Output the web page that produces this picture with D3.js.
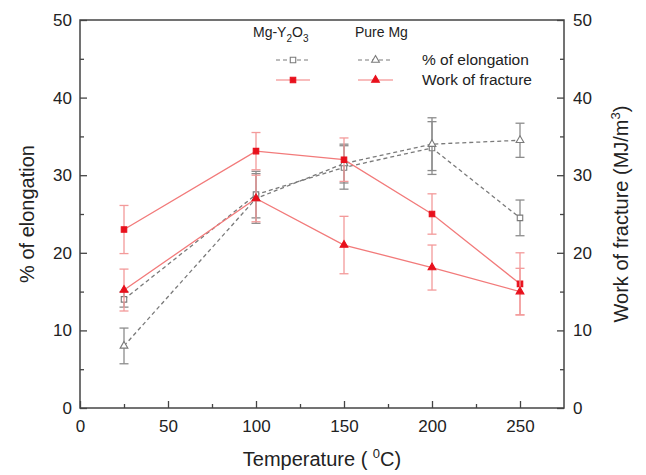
<html>
<head>
    <title>Elongation and work of fracture</title>
    <script src="https://d3js.org/d3.v7.min.js"></script>
    <style>
        body { margin: 0; background: #fff; }
        text { font-family: "Liberation Sans", Arial, sans-serif; fill: #222; }
    </style>
</head>
<body>
    <div id="cont"></div>
    <script>
        // temperatures (C)
        var temps = [25, 100, 150, 200, 250];
        // % of elongation, left axis
        var elongComposite = [14, 27.5, 31, 33.5, 24.5];
        var elongCompositeErr = [1, 3, 2.8, 3.4, 2.3];
        var elongPure = [8, 27, 31.5, 34, 34.5];
        var elongPureErr = [2.3, 3.2, 2.5, 3.4, 2.2];
        // work of fracture (MJ/m3), right axis
        var wofComposite = [23, 33.1, 32, 25, 16];
        var wofCompositeErr = [3.1, 2.4, 2.8, 2.6, 4];
        var wofPure = [15.2, 27, 21, 18.1, 15];
        var wofPureErr = [2.7, 3, 3.7, 2.9, 3];
        var xTicks = [0, 50, 100, 150, 200, 250];
        var yTicks = [0, 10, 20, 30, 40, 50];

        (function() {
            var margin = { top: 20, right: 82, bottom: 67, left: 80 },
                totalW = 646, totalH = 475,
                width = totalW - margin.left - margin.right,
                height = totalH - margin.top - margin.bottom,
                gray = '#7a7a7a', grayErr = '#8c8c8c',
                redLine = '#f27a7a', redMark = '#e8101c', redErr = '#f39a9a';

            var svg = d3.select('#cont').append('svg')
                .attr('width', totalW)
                .attr('height', totalH);
            var g = svg.append('g')
                .attr('transform', 'translate(' + margin.left + ',' + margin.top + ')');

            var x = d3.scaleLinear().domain([0, 275]).range([0, width]);
            var yL = d3.scaleLinear().domain([0, 50]).range([height, 0]);
            var yR = d3.scaleLinear().domain([0, 50]).range([height, 0]);

            // frame
            g.append('rect')
                .attr('width', width).attr('height', height)
                .attr('fill', 'none').attr('stroke', '#444').attr('stroke-width', 1.5);

            // axes, ticks inward
            function styleAxis(sel) {
                sel.select('.domain').remove();
                sel.selectAll('line').attr('stroke', '#444').attr('stroke-width', 1.3);
                sel.selectAll('text').style('font-size', '17px').attr('fill', '#222');
            }
            var xMinor = d3.range(25, 275, 50);
            g.append('g').attr('transform', 'translate(0,' + height + ')')
                .call(d3.axisBottom(x).tickValues(xTicks).tickSize(-7).tickPadding(12))
                .call(styleAxis);
            g.append('g').attr('transform', 'translate(0,' + height + ')')
                .call(d3.axisBottom(x).tickValues(xMinor).tickSize(-4).tickFormat(''))
                .call(styleAxis);

            var yMinor = d3.range(5, 50, 10);
            g.append('g')
                .call(d3.axisLeft(yL).tickValues(yTicks).tickSize(-7).tickPadding(8))
                .call(styleAxis);
            g.append('g')
                .call(d3.axisLeft(yL).tickValues(yMinor).tickSize(-4).tickFormat(''))
                .call(styleAxis);
            g.append('g').attr('transform', 'translate(' + width + ',0)')
                .call(d3.axisRight(yR).tickValues(yTicks).tickSize(-7).tickPadding(9))
                .call(styleAxis);
            g.append('g').attr('transform', 'translate(' + width + ',0)')
                .call(d3.axisRight(yR).tickValues(yMinor).tickSize(-4).tickFormat(''))
                .call(styleAxis);

            // series
            var series = [
                { vals: elongComposite, err: elongCompositeErr, y: yL, line: gray, err_c: grayErr, dash: '4,3', mark: 'square', fill: 'none', mc: gray },
                { vals: elongPure, err: elongPureErr, y: yL, line: gray, err_c: grayErr, dash: '4,3', mark: 'triangle', fill: 'none', mc: gray },
                { vals: wofComposite, err: wofCompositeErr, y: yR, line: redLine, err_c: redErr, dash: null, mark: 'square', fill: redMark, mc: redMark },
                { vals: wofPure, err: wofPureErr, y: yR, line: redLine, err_c: redErr, dash: null, mark: 'triangle', fill: redMark, mc: redMark }
            ];

            var symSquare = d3.symbol().type(d3.symbolSquare).size(30);
            var symTri = d3.symbol().type(d3.symbolTriangle).size(26);

            series.forEach(function(s) {
                var pts = temps.map(function(t, i) { return { t: t, v: s.vals[i], e: s.err[i] }; });
                var eg = g.append('g');
                pts.forEach(function(p) {
                    var cx = x(p.t), y1 = s.y(p.v + p.e), y2 = s.y(p.v - p.e);
                    eg.append('line').attr('x1', cx).attr('x2', cx).attr('y1', y1).attr('y2', y2)
                        .attr('stroke', s.err_c).attr('stroke-width', 1.3);
                    [y1, y2].forEach(function(yy) {
                        eg.append('line').attr('x1', cx - 4.5).attr('x2', cx + 4.5).attr('y1', yy).attr('y2', yy)
                            .attr('stroke', s.err_c).attr('stroke-width', 1.3);
                    });
                });
                g.append('path').datum(pts)
                    .attr('d', d3.line().x(function(d) { return x(d.t); }).y(function(d) { return s.y(d.v); }))
                    .attr('fill', 'none').attr('stroke', s.line).attr('stroke-width', 1.3)
                    .attr('stroke-dasharray', s.dash);
                g.selectAll(null).data(pts).enter().append('path')
                    .attr('transform', function(d) { return 'translate(' + x(d.t) + ',' + s.y(d.v) + ')'; })
                    .attr('d', s.mark === 'square' ? symSquare : symTri)
                    .attr('fill', s.fill === 'none' ? '#fff' : s.fill)
                    .attr('stroke', s.mc).attr('stroke-width', 1.1);
            });

            // legend
            var lg = svg.append('g').style('font-size', '15.5px');
            var hdr = lg.append('text').attr('x', 253).attr('y', 37).style('font-size', '14px');
            hdr.append('tspan').text('Mg-Y');
            hdr.append('tspan').attr('dy', 5).style('font-size', '10px').text('2');
            hdr.append('tspan').attr('dy', -5).text('O');
            hdr.append('tspan').attr('dy', 5).style('font-size', '10px').text('3');
            lg.append('text').attr('x', 355).attr('y', 37).style('font-size', '14px').text('Pure Mg');

            var rows = [
                { y: 60, label: '% of elongation', line: gray, dash: '4,3', fill: '#fff', mc: gray },
                { y: 80, label: 'Work of fracture', line: redLine, dash: null, fill: redMark, mc: redMark }
            ];
            rows.forEach(function(r) {
                [[276, 310, 'square'], [358, 393, 'triangle']].forEach(function(c) {
                    lg.append('line').attr('x1', c[0]).attr('x2', c[1]).attr('y1', r.y).attr('y2', r.y)
                        .attr('stroke', r.line).attr('stroke-width', 1.2).attr('stroke-dasharray', r.dash);
                    lg.append('path')
                        .attr('transform', 'translate(' + (c[0] + c[1]) / 2 + ',' + r.y + ')')
                        .attr('d', c[2] === 'square' ? symSquare : symTri)
                        .attr('fill', r.fill).attr('stroke', r.mc).attr('stroke-width', 1.1);
                });
                lg.append('text').attr('x', 422).attr('y', r.y + 5).text(r.label);
            });

            // axis titles
            svg.append('text')
                .attr('transform', 'translate(34,' + (margin.top + height / 2) + ') rotate(-90)')
                .attr('text-anchor', 'middle').style('font-size', '20px')
                .text('% of elongation');

            var rt = svg.append('text')
                .attr('transform', 'translate(628,' + (margin.top + height / 2) + ') rotate(-90)')
                .attr('text-anchor', 'middle').style('font-size', '20px');
            rt.append('tspan').text('Work of fracture (MJ/m');
            rt.append('tspan').attr('dy', -8).style('font-size', '13px').text('3');
            rt.append('tspan').attr('dy', 8).text(')');

            var xt = svg.append('text')
                .attr('x', margin.left + width / 2).attr('y', 466)
                .attr('text-anchor', 'middle').style('font-size', '20px');
            xt.append('tspan').text('Temperature ( ');
            xt.append('tspan').attr('dy', -8).style('font-size', '13px').text('0');
            xt.append('tspan').attr('dy', 8).text('C)');
        })();
    </script>
</body>
</html>
